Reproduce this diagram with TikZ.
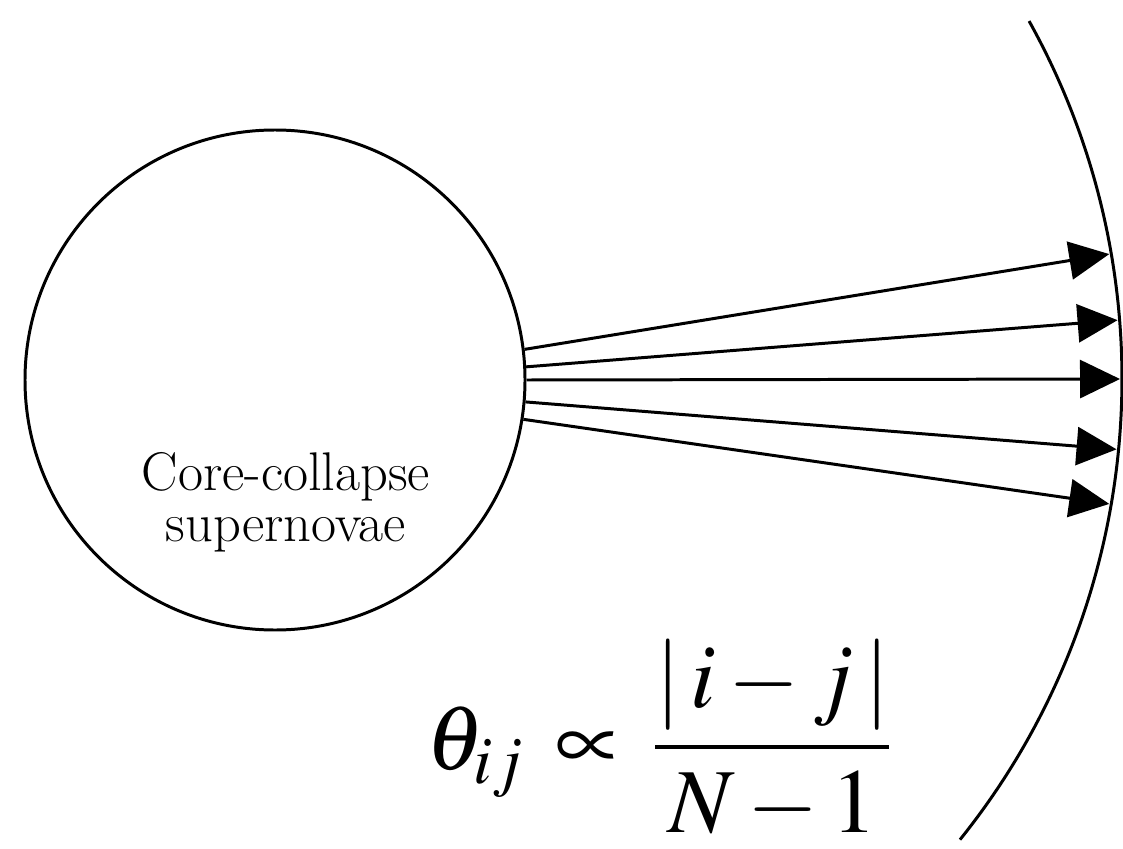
\documentclass[tikz,border=0pt]{standalone}
\usepackage{mathptmx}
\renewcommand{\rmdefault}{lmr}
\usetikzlibrary{arrows.meta}

\begin{document}
\begin{tikzpicture}[
    line width=0.85pt,
    source/.style={circle, draw, minimum size=5cm, inner sep=0pt},
    caption/.style={align=center, font=\fontsize{15.5}{14.5}\selectfont},
    ray/.style={-{Triangle[length=4mm,width=3.8mm]}},
    formula/.style={font=\fontsize{26}{31}\selectfont, inner sep=1pt}
]
    \useasboundingbox (0,0) rectangle (11.23,-8.49);

    % supernova source
    \node[source] (sn) at (2.75,-3.80) {};
    \node[caption] (lbl) at (2.86,-5.02) {Core-collapse\\supernovae};

    % detector front
    \coordinate (o) at (3.86,-3.79);
    \draw ([shift={(29.1:7.36)}]o) arc[start angle=29.1, end angle=-38.75, radius=7.36];

    % rays
    \foreach \e [count=\i] in {9.8,4.6,0,-5.5,-9.8}
        \coordinate (t\i) at ([shift={(\e:7.34)}]o);
    \foreach \s [count=\i] in {7.6,3,-0.7,-5.5,-9.4}
        \draw[ray] (sn.\s) -- (t\i);

    \node[formula] (eq) at (6.6,-7.40) {$\displaystyle\theta_{ij}\,\propto\,\frac{|\,i-j\,|}{N-1}$};
\end{tikzpicture}
\end{document}
